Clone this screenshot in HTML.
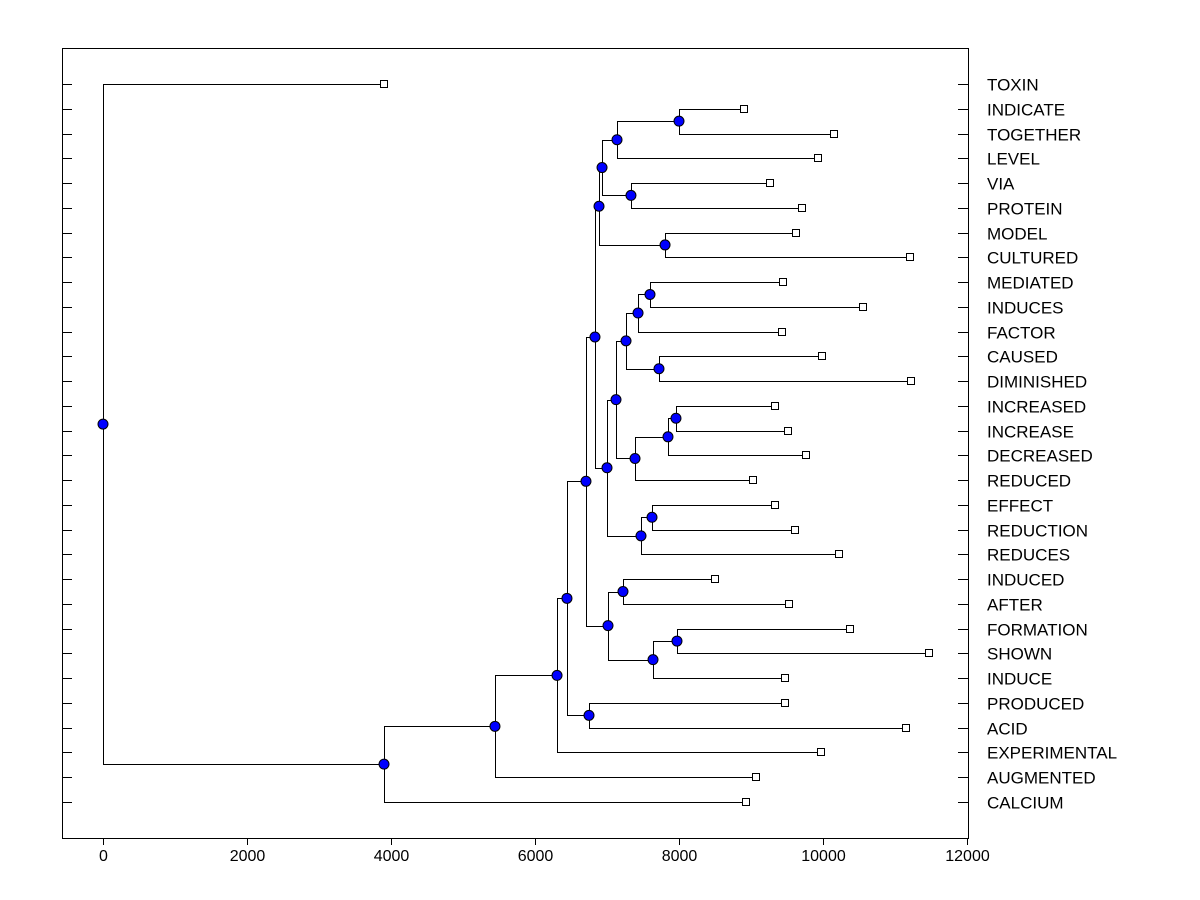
<!DOCTYPE html>
<html><head><meta charset="utf-8"><style>
body{margin:0;background:#fff;}
svg{display:block;font-family:"Liberation Sans",Arial,sans-serif;}
</style></head><body>
<svg id="chart" width="1200" height="900" viewBox="0 0 1200 900" xmlns="http://www.w3.org/2000/svg">
<rect x="62.5" y="48.5" width="906" height="790" fill="#fff" stroke="#000"/>
<g id="marks"></g>
</svg>
<script>
const leaves=["TOXIN","INDICATE","TOGETHER","LEVEL","VIA","PROTEIN","MODEL","CULTURED","MEDIATED","INDUCES","FACTOR","CAUSED","DIMINISHED","INCREASED","INCREASE","DECREASED","REDUCED","EFFECT","REDUCTION","REDUCES","INDUCED","AFTER","FORMATION","SHOWN","INDUCE","PRODUCED","ACID","EXPERIMENTAL","AUGMENTED","CALCIUM"];
const leafValues=[3903,8903,10153,9931,9264,9708,9625,11208,9444,10556,9431,9986,11222,9333,9514,9764,9028,9333,9611,10222,8500,9528,10375,11472,9472,9472,11153,9972,9069,8931];
const mergeLeft=[1,30,4,31,6,33,8,36,11,37,13,40,41,39,17,44,43,35,20,22,49,48,47,25,52,54,55,56,0];
const mergeRight=[2,3,5,32,7,34,9,10,12,38,14,15,16,42,18,19,45,46,21,23,24,50,51,26,53,27,28,29,57];
const mergeHeights=[8000,7139,7333,6931,7806,6889,7597,7431,7722,7264,7958,7847,7389,7125,7625,7472,7000,6833,7222,7972,7639,7014,6708,6750,6444,6306,5444,3903,0];
const xTicks=[0,2000,4000,6000,8000,10000,12000];

const NS="http://www.w3.org/2000/svg";
const g=document.getElementById('marks');
const xs=v=>103+v*0.072;
const ys=i=>84+i*(802-84)/29;
function mk(tag,attrs,parent){const e=document.createElementNS(NS,tag);for(const k in attrs)e.setAttribute(k,attrs[k]);(parent||g).appendChild(e);return e;}

const px=[],py=[];
leaves.forEach((n,i)=>{px[i]=xs(leafValues[i]);py[i]=ys(i);});
mergeHeights.forEach((h,k)=>{const id=30+k;px[id]=xs(h);py[id]=(py[mergeLeft[k]]+py[mergeRight[k]])/2;});

leaves.forEach((n,i)=>{
  const y=Math.round(ys(i))+0.5;
  const t1=mk('line',{x1:62,x2:72,y1:y,y2:y,stroke:'#000'});
  
  
  const t2=mk('line',{x1:958,x2:968,y1:y,y2:y,stroke:'#000'});
  
  
  const tx=mk('text',{x:987,y:y+6,'font-size':17});
  tx.textContent=n;
  
  
});
xTicks.forEach(v=>{
  const x=Math.round(xs(v))+0.5;
  const l=mk('line',{x1:x,x2:x,y1:838,y2:845,stroke:'#000'});
  
  
  const t=mk('text',{x:x,y:861,'font-size':16,'text-anchor':'middle'});
  t.textContent=v;
  
  
});
mergeHeights.forEach((h,k)=>{
  const id=30+k,a=mergeLeft[k],b=mergeRight[k];
  const x=Math.round(px[id])+0.5;
  const p=mk('path',{d:`M${Math.round(px[a])},${Math.round(py[a])+0.5}H${x}V${Math.round(py[b])+0.5}H${Math.round(px[b])}`,fill:'none',stroke:'#000'});
  
  
});
leaves.forEach((n,i)=>{
  const r=mk('rect',{x:Math.round(px[i])-3.5,y:Math.round(py[i])-3.5,width:7,height:7,fill:'#fff',stroke:'#000'});
  
  
});
mergeHeights.forEach((h,k)=>{
  const id=30+k;
  const c=mk('circle',{cx:px[id],cy:py[id],r:5,fill:'#0000ff',stroke:'#000'});
  
  
});
</script>
</body></html>
